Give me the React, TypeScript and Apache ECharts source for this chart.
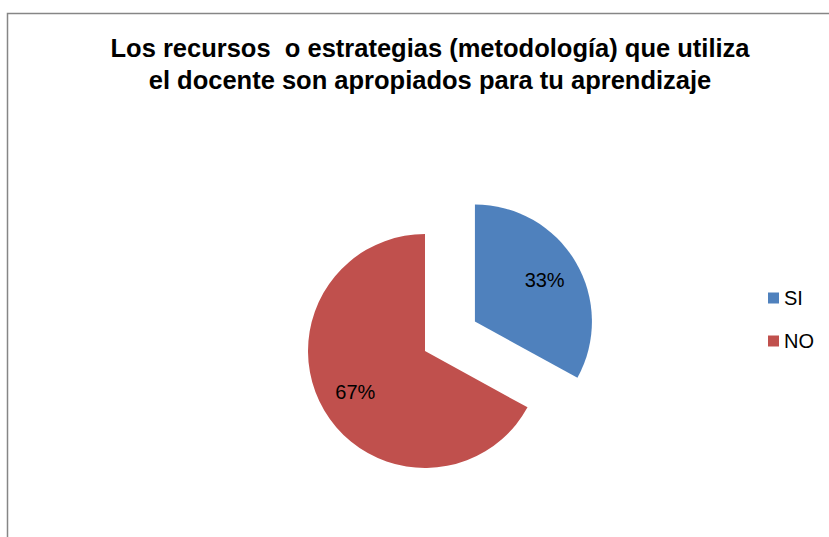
import React, { useEffect, useRef } from "react";
import * as echarts from "echarts";

const titleLines = [
  "Los recursos  o estrategias (metodología) que utiliza",
  "el docente son apropiados para tu aprendizaje",
];
const categories = ["SI", "NO"];
const values = [33, 67];
const labels = ["33%", "67%"];
const colors = ["#4F81BD", "#C0504D"];

export default function App() {
  const ref = useRef<HTMLDivElement>(null);
  useEffect(() => {
    const chart = echarts.init(ref.current!, null, { renderer: "svg" });
    const font = "'Liberation Sans', Arial, sans-serif";
    const mkData = (transparent: boolean) =>
      categories.map((c, i) => ({
        name: c,
        value: values[i],
        selected: i === 0,
        itemStyle: { color: transparent ? "rgba(0,0,0,0)" : colors[i] },
        label: { formatter: labels[i] },
      }));
    chart.setOption({
      animation: false,
      backgroundColor: "#ffffff",
      title: {
        text: titleLines.join("\n"),
        left: 425,
        textAlign: "center",
        top: 27,
        textStyle: {
          fontFamily: font,
          fontWeight: "bold",
          fontSize: 25.5,
          lineHeight: 32,
          color: "#000",
        },
      },
      legend: {
        orient: "vertical",
        left: 763,
        top: 283,
        itemWidth: 11,
        itemHeight: 11,
        itemGap: 23,
        icon: "rect",
        data: categories,
        selectedMode: false,
        textStyle: { fontFamily: font, fontSize: 20, lineHeight: 20, color: "#000" },
      },
      graphic: [
        {
          type: "rect",
          shape: { x: 7.5, y: 13.5, width: 900, height: 600 },
          style: { fill: "none", stroke: "#868686", lineWidth: 1.5 },
          silent: true,
        },
      ],
      series: [
        {
          type: "pie",
          center: [425, 351],
          radius: [0, 117],
          startAngle: 90,
          clockwise: true,
          selectedMode: "single",
          selectedOffset: 58,
          silent: true,
          label: { show: false },
          labelLine: { show: false },
          emphasis: { disabled: true },
          data: mkData(false),
        },
        {
          type: "pie",
          center: [425, 351],
          radius: [40, 116],
          startAngle: 90,
          clockwise: true,
          selectedMode: "single",
          selectedOffset: 58,
          silent: true,
          legendHoverLink: false,
          label: {
            show: true,
            position: "inside",
            fontFamily: font,
            fontSize: 20,
            color: "#000",
          },
          labelLine: { show: false },
          emphasis: { disabled: true },
          data: mkData(true),
        },
      ],
    });
    return () => chart.dispose();
  }, []);
  return (
    <div
      ref={ref}
      style={{ position: "fixed", left: 0, top: 0, width: 829, height: 537 }}
    />
  );
}
